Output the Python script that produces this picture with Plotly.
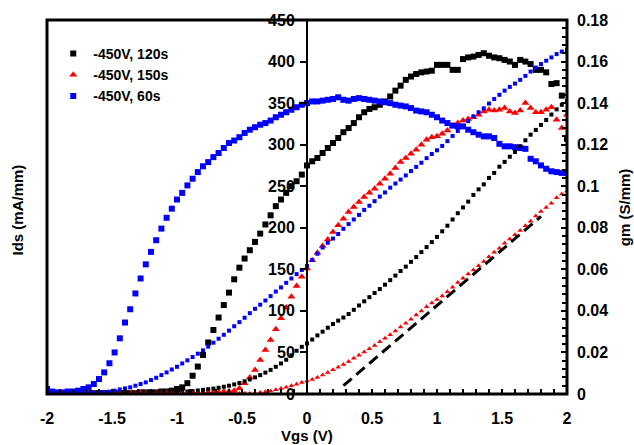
import plotly.graph_objects as go

# Gate sweep, Vgs (V), 0.04 V steps
vgs = [-2.00, -1.96, -1.92, -1.88, -1.84, -1.80, -1.76, -1.72, -1.68, -1.64,
       -1.60, -1.56, -1.52, -1.48, -1.44, -1.40, -1.36, -1.32, -1.28, -1.24,
       -1.20, -1.16, -1.12, -1.08, -1.04, -1.00, -0.96, -0.92, -0.88, -0.84,
       -0.80, -0.76, -0.72, -0.68, -0.64, -0.60, -0.56, -0.52, -0.48, -0.44,
       -0.40, -0.36, -0.32, -0.28, -0.24, -0.20, -0.16, -0.12, -0.08, -0.04,
       0.00, 0.04, 0.08, 0.12, 0.16, 0.20, 0.24, 0.28, 0.32, 0.36,
       0.40, 0.44, 0.48, 0.52, 0.56, 0.60, 0.64, 0.68, 0.72, 0.76,
       0.80, 0.84, 0.88, 0.92, 0.96, 1.00, 1.04, 1.08, 1.12, 1.16,
       1.20, 1.24, 1.28, 1.32, 1.36, 1.40, 1.44, 1.48, 1.52, 1.56,
       1.60, 1.64, 1.68, 1.72, 1.76, 1.80, 1.84, 1.88, 1.92, 1.96,
       2.00]

# Drain current Ids (mA/mm)
ids_120s = [2, 1, 1, 1, 1, 1, 1, 1, 1, 1,
            1, 1, 1, 1, 1, 1, 1, 1, 2, 2,
            2, 2, 3, 3, 4, 6, 8, 13, 22, 33,
            47, 62, 77, 92, 107, 122, 138, 152, 163, 173,
            183, 193, 204, 215, 226, 234, 242, 250, 256, 264,
            275, 280, 284, 290, 296, 302, 308, 315, 320, 326,
            333, 339, 343, 345, 348, 352, 358, 365, 371, 378,
            382, 385, 387, 388, 389, 396, 396, 396, 390, 390,
            403, 405, 406, 408, 410, 407, 405, 404, 402, 400,
            396, 402, 400, 397, 390, 390, 387, 373, 374, 359,
            307]

ids_150s = [2, 1, 1, 1, 1, 1, 1, 1, 1, 1,
            1, 1, 1, 1, 1, 1, 1, 1, 1, 1,
            1, 1, 1, 1, 1, 1, 1, 1, 1, 1,
            1, 2, 2, 2, 3, 3, 4, 7, 13, 20,
            29, 41, 53, 65, 78, 91, 104, 117, 130, 141,
            151, 161, 170, 178, 186, 195, 203, 211, 219, 225,
            231, 237, 242, 247, 253, 259, 265, 272, 279, 284,
            289, 294, 300, 306, 309, 310, 313, 317, 322, 326,
            329, 331, 333, 336, 340, 342, 341, 342, 344, 340,
            338, 341, 350, 344, 339, 339, 342, 345, 330, 320,
            336]

ids_60s = [6, 3, 2, 2, 3, 3, 4, 6, 8, 12,
           18, 26, 37, 50, 67, 86, 102, 121, 139, 156,
           171, 185, 199, 212, 223, 234, 242, 251, 259, 267,
           274, 279, 285, 290, 296, 302, 305, 309, 314, 318,
           321, 324, 326, 329, 333, 336, 339, 342, 345, 348,
           350, 352, 352, 353, 354, 355, 357, 354, 353, 355,
           356, 355, 354, 353, 352, 351, 350, 348, 347, 346,
           344, 341, 340, 339, 336, 333, 329, 326, 323, 322,
           322, 318, 315, 312, 310, 310, 308, 301, 298, 298,
           297, 296, 295, 283, 280, 275, 271, 268, 267, 266,
           266]

# Transconductance gm (S/mm)
gm_120s = [0.0004, 0.0003, 0.0003, 0.0003, 0.0003, 0.0003, 0.0003, 0.0003, 0.0003, 0.0003,
           0.0003, 0.0003, 0.0003, 0.0003, 0.0003, 0.0003, 0.0004, 0.0004, 0.0004, 0.0004,
           0.0005, 0.0005, 0.0005, 0.0006, 0.0007, 0.0008, 0.0010, 0.0012, 0.0014, 0.0017,
           0.0020, 0.0023, 0.0026, 0.0030, 0.0035, 0.0040, 0.0046, 0.0053, 0.0061, 0.0070,
           0.0080, 0.0091, 0.0103, 0.0116, 0.0131, 0.0147, 0.0165, 0.0186, 0.0208, 0.0227,
           0.0243, 0.0262, 0.0282, 0.0300, 0.0319, 0.0337, 0.0353, 0.0368, 0.0385, 0.0405,
           0.0426, 0.0446, 0.0466, 0.0486, 0.0505, 0.0526, 0.0548, 0.0570, 0.0592, 0.0613,
           0.0636, 0.0659, 0.0683, 0.0707, 0.0731, 0.0756, 0.0783, 0.0810, 0.0840, 0.0870,
           0.0898, 0.0926, 0.0958, 0.0985, 0.1009, 0.1040, 0.1064, 0.1094, 0.1117, 0.1142,
           0.1165, 0.1193, 0.1221, 0.1248, 0.1271, 0.1295, 0.1319, 0.1345, 0.1370, 0.1392,
           0.1410]

gm_150s = [0.0002, 0.0002, 0.0002, 0.0002, 0.0002, 0.0002, 0.0002, 0.0002, 0.0002, 0.0002,
           0.0002, 0.0002, 0.0002, 0.0002, 0.0002, 0.0002, 0.0002, 0.0002, 0.0002, 0.0002,
           0.0002, 0.0002, 0.0002, 0.0002, 0.0002, 0.0002, 0.0002, 0.0002, 0.0002, 0.0002,
           0.0002, 0.0002, 0.0002, 0.0002, 0.0002, 0.0002, 0.0002, 0.0002, 0.0003, 0.0003,
           0.0004, 0.0007, 0.0011, 0.0015, 0.0020, 0.0026, 0.0033, 0.0040, 0.0047, 0.0055,
           0.0062, 0.0070, 0.0080, 0.0092, 0.0104, 0.0117, 0.0129, 0.0142, 0.0157, 0.0172,
           0.0187, 0.0202, 0.0218, 0.0234, 0.0251, 0.0268, 0.0285, 0.0303, 0.0322, 0.0341,
           0.0360, 0.0380, 0.0400, 0.0420, 0.0438, 0.0455, 0.0472, 0.0492, 0.0514, 0.0537,
           0.0557, 0.0577, 0.0597, 0.0617, 0.0638, 0.0660, 0.0682, 0.0702, 0.0725, 0.0746,
           0.0766, 0.0787, 0.0810, 0.0832, 0.0857, 0.0878, 0.0898, 0.0918, 0.0945, 0.0962,
           0.0977]

gm_60s = [0.0002, 0.0002, 0.0003, 0.0003, 0.0003, 0.0004, 0.0004, 0.0005, 0.0005, 0.0006,
          0.0007, 0.0009, 0.0011, 0.0016, 0.0022, 0.0027, 0.0032, 0.0040, 0.0048, 0.0056,
          0.0067, 0.0078, 0.0091, 0.0104, 0.0118, 0.0131, 0.0147, 0.0162, 0.0178, 0.0194,
          0.0210, 0.0228, 0.0247, 0.0266, 0.0285, 0.0305, 0.0326, 0.0346, 0.0367, 0.0389,
          0.0410, 0.0430, 0.0450, 0.0471, 0.0493, 0.0513, 0.0535, 0.0556, 0.0577, 0.0597,
          0.0616, 0.0645, 0.0675, 0.0705, 0.0728, 0.0748, 0.0770, 0.0795, 0.0818, 0.0840,
          0.0862, 0.0886, 0.0906, 0.0928, 0.0950, 0.0970, 0.0993, 0.1013, 0.1032, 0.1052,
          0.1073, 0.1093, 0.1113, 0.1135, 0.1155, 0.1173, 0.1194, 0.1217, 0.1242, 0.1266,
          0.1290, 0.1313, 0.1336, 0.1356, 0.1375, 0.1398, 0.1420, 0.1440, 0.1460, 0.1478,
          0.1494, 0.1512, 0.1531, 0.1552, 0.1571, 0.1588, 0.1604, 0.1620, 0.1636, 0.1648,
          0.1656]

# Linear fit of gm for the 150 s curve
fit_vgs = [0.28, 1.80]
fit_gm = [0.0040, 0.0855]

x_ticks = [-2, -1.5, -1, -0.5, 0, 0.5, 1, 1.5, 2]
x_ticktext = ["-2", "-1.5", "-1", "-0.5", "0", "0.5", "1", "1.5", "2"]
ids_ticks = [0, 50, 100, 150, 200, 250, 300, 350, 400, 450]
gm_ticks = [0, 0.02, 0.04, 0.06, 0.08, 0.1, 0.12, 0.14, 0.16, 0.18]
gm_ticktext = ["0", "0.02", "0.04", "0.06", "0.08", "0.1", "0.12", "0.14", "0.16", "0.18"]

for s in (ids_120s, ids_150s, ids_60s, gm_120s, gm_150s, gm_60s):
    assert len(s) == len(vgs)

BLACK, RED, BLUE = "#000000", "#FF0000", "#0000FF"
FONT = "Liberation Sans, Arial, sans-serif"

fig = go.Figure()

# Ids curves (left axis, large markers)
fig.add_trace(go.Scatter(x=vgs, y=ids_120s, mode="markers", name="-450V, 120s",
                         marker=dict(symbol="square", size=6, color=BLACK, line=dict(width=0))))
fig.add_trace(go.Scatter(x=vgs, y=ids_150s, mode="markers", name="-450V, 150s",
                         marker=dict(symbol="triangle-up", size=7, color=RED, line=dict(width=0))))
fig.add_trace(go.Scatter(x=vgs, y=ids_60s, mode="markers", name="-450V, 60s",
                         marker=dict(symbol="square", size=6, color=BLUE, line=dict(width=0))))

# gm curves (right axis, small markers)
fig.add_trace(go.Scatter(x=vgs, y=gm_120s, mode="markers", yaxis="y2", showlegend=False,
                         marker=dict(symbol="square", size=4, color=BLACK, line=dict(width=0))))
fig.add_trace(go.Scatter(x=vgs, y=gm_150s, mode="markers", yaxis="y2", showlegend=False,
                         marker=dict(symbol="triangle-up", size=5, color=RED, line=dict(width=0))))
fig.add_trace(go.Scatter(x=vgs, y=gm_60s, mode="markers", yaxis="y2", showlegend=False,
                         marker=dict(symbol="square", size=4, color=BLUE, line=dict(width=0))))
fig.add_trace(go.Scatter(x=fit_vgs, y=fit_gm, mode="lines", yaxis="y2", showlegend=False,
                         line=dict(color=BLACK, width=3, dash="11px,6px")))

tick_font = dict(family=FONT, size=16, color=BLACK, weight="bold")

fig.update_layout(
    width=634, height=445,
    margin=dict(l=47, r=67, t=17, b=51),
    paper_bgcolor="white", plot_bgcolor="white",
    showlegend=True,
    legend=dict(x=0.012, y=0.952, xanchor="left", yanchor="top",
                bgcolor="rgba(0,0,0,0)", borderwidth=0,
                font=dict(family=FONT, size=14, color=BLACK, weight="bold")),
    xaxis=dict(range=[-2, 2], tickvals=x_ticks, ticktext=x_ticktext,
               showgrid=False, zeroline=False, showline=False,
               ticks="inside", ticklen=5, tickwidth=2, tickcolor=BLACK,
               minor=dict(dtick=0.1, ticks="inside", ticklen=5, tickwidth=2, tickcolor=BLACK),
               tickfont=tick_font, ticklabelstandoff=13),
    yaxis=dict(range=[0, 450], tickvals=ids_ticks, anchor="free", position=0.5,
               showgrid=False, zeroline=False, showline=True, linewidth=2, linecolor=BLACK,
               ticks="outside", ticklen=6, tickwidth=2, tickcolor=BLACK,
               tickfont=tick_font, ticklabelstandoff=2),
    yaxis3=dict(range=[0, 450], tickvals=ids_ticks, overlaying="y", anchor="free", position=0.5,
                showgrid=False, zeroline=False, showline=False, showticklabels=False,
                ticks="inside", ticklen=6, tickwidth=2, tickcolor=BLACK),
    yaxis2=dict(range=[0, 0.18], tickvals=gm_ticks, ticktext=gm_ticktext,
                overlaying="y", side="right", anchor="x",
                showgrid=False, zeroline=False, showline=False,
                ticks="inside", ticklen=6, tickwidth=2, tickcolor=BLACK,
                minor=dict(dtick=0.004, ticks="inside", ticklen=5, tickwidth=2, tickcolor=BLACK),
                tickfont=tick_font, ticklabelstandoff=9),
    shapes=[dict(type="rect", xref="paper", yref="paper", x0=0, x1=1, y0=0, y1=1,
                 line=dict(color=BLACK, width=3), fillcolor="rgba(0,0,0,0)", layer="above")],
    annotations=[
        dict(text="Vgs (V)", xref="paper", yref="paper", x=0.5, y=-0.111,
             xanchor="center", yanchor="middle", showarrow=False,
             font=dict(family=FONT, size=15, color=BLACK, weight="bold")),
        dict(text="Ids (mA/mm)", xref="paper", yref="paper", x=-0.056, y=0.493,
             xanchor="center", yanchor="middle", textangle=-90, showarrow=False,
             font=dict(family=FONT, size=15, color=BLACK, weight="bold")),
        dict(text="gm (S/mm)", xref="paper", yref="paper", x=1.11, y=0.50,
             xanchor="center", yanchor="middle", textangle=-90, showarrow=False,
             font=dict(family=FONT, size=15, color=BLACK, weight="bold")),
    ],
)

fig.write_html("out.html")
